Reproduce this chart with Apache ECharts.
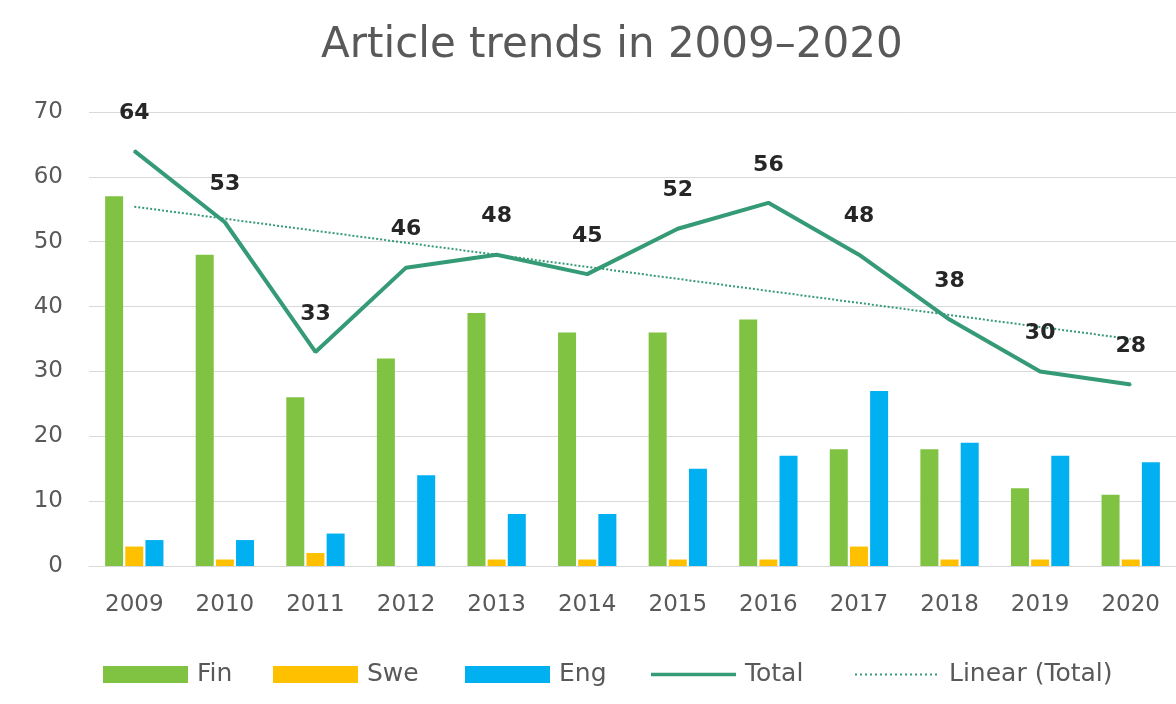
<!DOCTYPE html>
<html>
<head>
<meta charset="utf-8">
<script src="https://cdn.jsdelivr.net/npm/echarts@6/dist/echarts.min.js"></script>
<style>html,body{margin:0;padding:0;background:#fff}#c{width:1176px;height:704px}</style>
</head>
<body>
<div id="c"></div>
<script>
var years = ['2009','2010','2011','2012','2013','2014','2015','2016','2017','2018','2019','2020'];
var fin = [57,48,26,32,39,36,36,38,18,18,12,11];
var swe = [3,1,2,0,1,1,1,1,3,1,1,1];
var eng = [4,4,5,14,8,8,15,17,27,19,17,16];
var total = [64,53,33,46,48,45,52,56,48,38,30,28];
var trendEnds = [55.4, 35.0]; // linear trend values read at 2009 and 2020
var yTicks = [0,10,20,30,40,50,60,70];

var trend = years.map(function(y,i){ return i===0 ? trendEnds[0] : (i===years.length-1 ? trendEnds[1] : null); });

var font = 'DejaVu Sans';
var gray = '#595959';
var lineColor = '#359A76';
// thin horizontal bar icon spanning the legend box (tiny corner specks keep the bbox)
var thickLineIcon = 'path://M0,0H0.2V0.2H0Z M0,6.8H85V10.2H0Z M84.8,16.8H85V17H84.8Z';
var dottedIcon = 'path://M0,0H0.2V0.2H0Z M0,7.5H2V9.5H0Z M5,7.5H7V9.5H5Z M10,7.5H12V9.5H10Z M15,7.5H17V9.5H15Z M20,7.5H22V9.5H20Z M25,7.5H27V9.5H25Z M30,7.5H32V9.5H30Z M35,7.5H37V9.5H35Z M40,7.5H42V9.5H40Z M45,7.5H47V9.5H45Z M50,7.5H52V9.5H50Z M55,7.5H57V9.5H55Z M60,7.5H62V9.5H60Z M65,7.5H67V9.5H65Z M70,7.5H72V9.5H70Z M75,7.5H77V9.5H75Z M80,7.5H82V9.5H80Z M84.8,16.8H85V17H84.8Z';

function leg(name, left, icon){
  return {
    left: left, top: 657, itemWidth: 85, itemHeight: 17,
    textStyle: {fontFamily: font, fontSize: 25, color: gray, padding: [0,0,0,4]},
    data: [{name: name, icon: icon}]
  };
}

var chart = echarts.init(document.getElementById('c'));
chart.setOption({
  animation: false,
  title: {
    text: 'Article trends in 2009\u20132020',
    left: 316, top: 20,
    textStyle: {fontFamily: font, fontSize: 42, fontWeight: 'normal', color: gray}
  },
  legend: [
    leg('Fin', 98, 'rect'),
    leg('Swe', 268, 'rect'),
    leg('Eng', 460, 'rect'),
    leg('Total', 646, thickLineIcon),
    leg('Linear (Total)', 850, dottedIcon)
  ],
  grid: {left: 89, right: -10, top: 112, bottom: 138},
  xAxis: {
    type: 'category', data: years,
    axisLine: {show: true, lineStyle: {color: '#d9d9d9'}},
    axisTick: {show: false},
    axisLabel: {fontFamily: font, fontSize: 23, color: gray, margin: 28}
  },
  yAxis: {
    type: 'value', min: yTicks[0], max: yTicks[yTicks.length-1], interval: 10,
    axisLine: {show: false}, axisTick: {show: false},
    axisLabel: {fontFamily: font, fontSize: 23, color: gray, margin: 26},
    splitLine: {lineStyle: {color: '#d9d9d9', width: 1}}
  },
  series: [
    {name:'Fin', type:'bar', data: fin, barWidth: 18, barGap: '12%', itemStyle:{color:'#80C343'}},
    {name:'Swe', type:'bar', data: swe, barWidth: 18, barGap: '12%', itemStyle:{color:'#FFC000'}},
    {name:'Eng', type:'bar', data: eng, barWidth: 18, barGap: '12%', itemStyle:{color:'#00B0F0'}},
    {name:'Total', type:'line', data: total, symbol:'circle', symbolSize: 2, showSymbol: true, z: 5,
      lineStyle:{color: lineColor, width: 4}, itemStyle:{color: lineColor},
      label:{show:true, position:'top', distance: 26, fontFamily: font, fontSize: 22, fontWeight:'bold', color:'#262626'}},
    {name:'Linear (Total)', type:'line', data: trend, connectNulls: true, symbol:'none', z: 4,
      lineStyle:{color: lineColor, width: 2, type:'dotted'}, itemStyle:{color: lineColor}}
  ]
});
</script>
</body>
</html>
